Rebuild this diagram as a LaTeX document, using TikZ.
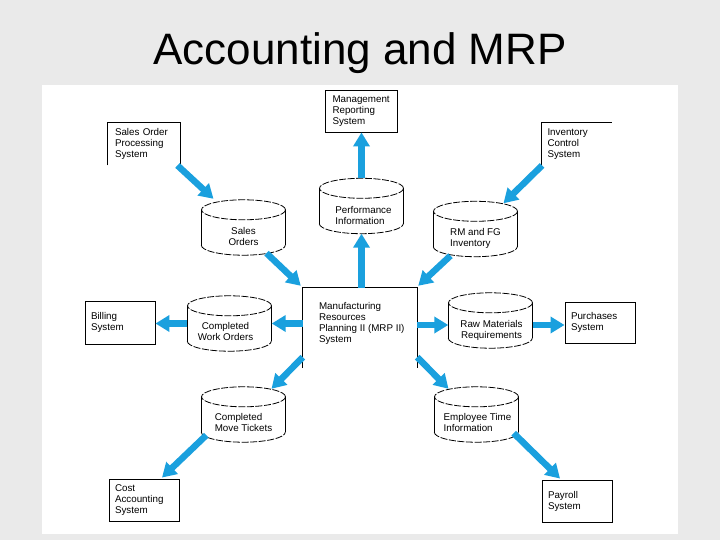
\documentclass[tikz,border=0pt]{standalone}
\usepackage{fontspec}
\setmainfont{Liberation Sans}
\usetikzlibrary{arrows.meta,calc}
\hyphenpenalty=10000
\exhyphenpenalty=10000
\definecolor{flowc}{RGB}{26,160,222}
\definecolor{bgc}{RGB}{234,234,234}
\newcommand{\boxfont}{\fontsize{9.8}{11}\selectfont}
\begin{document}
\begin{tikzpicture}[x=1pt,y=-1pt,
  sbox/.style={draw, line width=0.9pt, minimum width=70pt, minimum height=42pt,
    inner xsep=6pt, inner ysep=0pt, text width=58pt, align=left, font=\boxfont},
  cylnode/.style={minimum width=84pt, minimum height=55pt, inner sep=0pt},
  cyltext/.style={font=\boxfont, align=#1, inner sep=0pt},
  cyltext/.default=left,
  cylline/.style={line width=0.8pt},
  cyldash/.style={line width=0.8pt, dash pattern=on 7pt off 1.6pt},
  edge/.style={line width=0.9pt},
  flow/.style={draw=flowc, line width=6.5pt, -{Triangle[width=16pt,length=14pt]}}]
\useasboundingbox (0,0) rectangle (720,540);
\fill[bgc] (0,0) rectangle (720,540);
\fill[white] (42,85) rectangle (678,534);
\node[font=\fontsize{44}{50}\selectfont, anchor=base, inner sep=0pt] (title) at (360,65) {Accounting and MRP};

% cylinders (stores)
\node[cylnode] (so) at (243.5,227.5) {};
\node[cylnode] (perf) at (361.5,206) {};
\node[cylnode] (rmfg) at (475.5,229) {};
\node[cylnode] (cwo) at (229.5,323.5) {};
\node[cylnode] (rmr) at (490.5,320.5) {};
\node[cylnode] (cmt) at (243.5,414.5) {};
\node[cylnode] (eti) at (476.5,414.5) {};

% boxes
\node[sbox, minimum width=72pt] (mrs) at (361.5,111) {Management\\Reporting\\System};
\node[sbox, draw=none, minimum width=72pt] (sop) at (144,144) {Sales Order\\Processing\\System};
\node[sbox, draw=none] (ics) at (576.5,144) {Inventory\\Control\\System};
\node[sbox, minimum height=43pt] (bill) at (120,322.5) {Billing\\System};
\node[sbox, minimum height=41pt] (purch) at (600,322.5) {Purchases\\System};
\node[sbox] (cost) at (144,500) {Cost\\Accounting\\System};
\node[sbox] (pay) at (577,501) {Payroll\\System};
\node[minimum width=114pt, minimum height=80pt, inner sep=0pt] (mrp) at (360,328) {};
\node[anchor=north west, align=left, font=\boxfont, inner sep=0pt] (mrptxt)
  at ($(mrp.north west)+(16,14)$) {Manufacturing\\Resources\\Planning II (MRP II)\\System};

% partial box outlines
\draw[edge] (sop.south west) -- (sop.north west) -- (sop.north east) -- (sop.south east);
\draw[edge] (ics.south west) -- (ics.north west) -- (ics.north east);
\draw[edge] (mrp.south west) -- (mrp.north west) -- (mrp.north east) -- (mrp.south east);

% cylinder outlines
\foreach \n in {so,perf,rmfg,cwo,rmr,cmt,eti}{
  \draw[cylline] ($(\n.north west)+(0,10)$) -- ($(\n.south west)+(0,-10)$);
  \draw[cylline] ($(\n.north east)+(0,10)$) -- ($(\n.south east)+(0,-10)$);
  \draw[cyldash] ($(\n.north)+(0,10)$) ellipse [x radius=42pt, y radius=10pt];
  \draw[cyldash] ($(\n.south west)+(0,-10)$) arc[start angle=180, end angle=360, x radius=42pt, y radius=10pt];
}

% cylinder texts
\node[cyltext=center] (sot) at ($(so.center)+(0,9)$) {Sales\\Orders};
\node[cyltext] (perft) at ($(perf.center)+(2,9.5)$) {Performance\\Information};
\node[cyltext] (rmfgt) at ($(rmfg.center)+(0,9)$) {RM and FG\\Inventory};
\node[cyltext=center] (cwot) at ($(cwo.center)+(-4,7.5)$) {Completed\\Work Orders};
\node[cyltext=center] (rmrt) at ($(rmr.center)+(1,10)$) {Raw Materials\\Requirements};
\node[cyltext] (cmtt) at ($(cmt.center)+(0,8)$) {Completed\\Move Tickets};
\node[cyltext] (etit) at ($(eti.center)+(1,8)$) {Employee Time\\Information};

% flows
\draw[flow] ($(sop.south east)+(-3,0)$) -- ($(so.north)+(-30,-1)$);
\draw[flow] ($(so.south)+(23,-2)$) -- ($(mrp.north west)+(-2,-2)$);
\draw[flow] (perf.north) -- (mrs.south);
\draw[flow] (perf.south |- mrp.north) -- (perf.south);
\draw[flow] ($(ics.south west)+(1,0)$) -- ($(rmfg.north)+(28,2)$);
\draw[flow] ($(rmfg.south)+(-25,-1)$) -- ($(mrp.north east)+(1,-2)$);
\draw[flow] (mrp.west |- cwo.east) -- (cwo.east);
\draw[flow] (cwo.west) -- (bill.east |- cwo.west);
\draw[flow] ($(mrp.east)+(0,-3)$) -- ($(rmr.west)+(0,4.5)$);
\draw[flow] ($(rmr.east)+(0,4.5)$) -- ($(purch.west)+(0,2.5)$);
\draw[flow] ($(mrp.south west)+(0,-11)$) -- ($(cmt.north)+(28,2)$);
\draw[flow] ($(mrp.south east)+(0,-11)$) -- ($(eti.north)+(-28,2)$);
\draw[flow] ($(cmt.south west)+(5,-7)$) -- ($(cost.north)+(18,-1)$);
\draw[flow] ($(eti.south east)+(-5,-9)$) -- ($(pay.north)+(-17,-1)$);
\end{tikzpicture}
\end{document}
